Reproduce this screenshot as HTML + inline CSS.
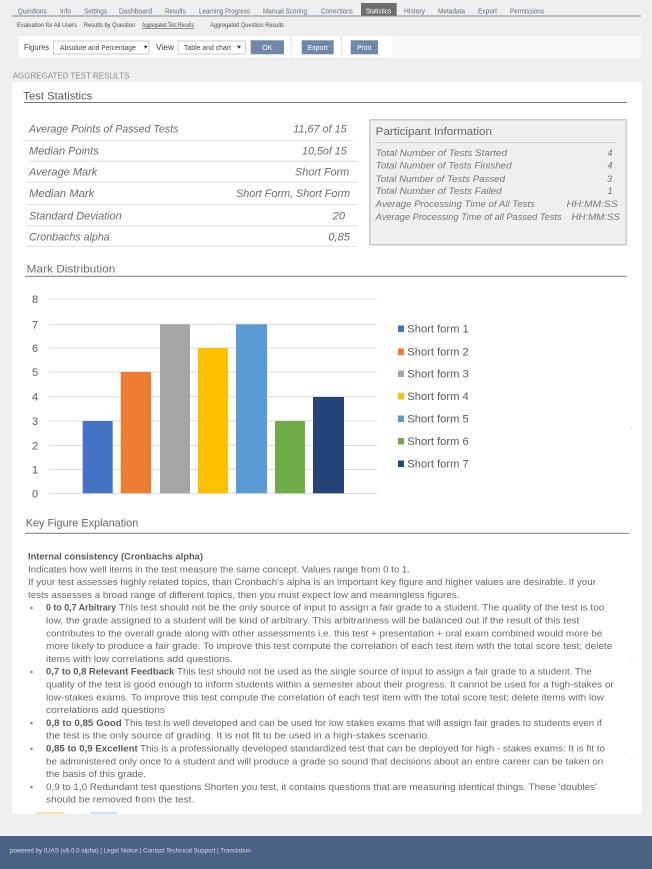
<!DOCTYPE html>
<html><head><meta charset="utf-8"><style>
html,body{margin:0;padding:0;background:#efefef;width:652px;height:869px;overflow:hidden}
svg{display:block}
text{font-family:"Liberation Sans",sans-serif}
</style></head><body>
<svg width="652" height="869" viewBox="0 0 652 869" xmlns="http://www.w3.org/2000/svg">
<rect x="0" y="0" width="652" height="869" fill="#efefef"/>

<!-- Tabs -->
<rect x="361" y="3" width="35.7" height="13" fill="#6d6d6d"/>
<rect x="12" y="15.5" width="629" height="1" fill="#8a8a8a"/>
<g font-size="7" fill="#5f6e7c">
<text x="17.7" y="13.5" textLength="29" lengthAdjust="spacingAndGlyphs">Questions</text>
<text x="60" y="13.5" textLength="11" lengthAdjust="spacingAndGlyphs">Info</text>
<text x="84" y="13.5" textLength="23" lengthAdjust="spacingAndGlyphs">Settings</text>
<text x="119" y="13.5" textLength="33" lengthAdjust="spacingAndGlyphs">Dashboard</text>
<text x="165" y="13.5" textLength="20.7" lengthAdjust="spacingAndGlyphs">Results</text>
<text x="199" y="13.5" textLength="51" lengthAdjust="spacingAndGlyphs">Learning Progress</text>
<text x="263" y="13.5" textLength="44" lengthAdjust="spacingAndGlyphs">Manual Scoring</text>
<text x="321" y="13.5" textLength="31.7" lengthAdjust="spacingAndGlyphs">Corrections</text>
<text x="365.7" y="13.5" textLength="25.3" lengthAdjust="spacingAndGlyphs" fill="#ffffff">Statistics</text>
<text x="404" y="13.5" textLength="21" lengthAdjust="spacingAndGlyphs">History</text>
<text x="438" y="13.5" textLength="27" lengthAdjust="spacingAndGlyphs">Metadata</text>
<text x="478" y="13.5" textLength="19" lengthAdjust="spacingAndGlyphs">Export</text>
<text x="510" y="13.5" textLength="34" lengthAdjust="spacingAndGlyphs">Permissions</text>
</g>

<!-- Subtabs -->
<g font-size="6" fill="#4a4a4a">
<text x="17" y="26.9" textLength="60" lengthAdjust="spacingAndGlyphs">Evaluation for All Users</text>
<text x="84" y="26.9" textLength="51" lengthAdjust="spacingAndGlyphs">Results by Question</text>
<text x="142" y="26.9" textLength="52" lengthAdjust="spacingAndGlyphs">Aggregated Test Results</text>
<text x="210" y="26.9" textLength="74" lengthAdjust="spacingAndGlyphs">Aggregated Question Results</text>
</g>
<rect x="142" y="28" width="52" height="0.6" fill="#555"/>

<!-- Toolbar -->
<rect x="19" y="36" width="373.7" height="22" fill="#ffffff"/>
<rect x="392.7" y="36" width="249" height="22" fill="#f8f8f8"/>
<rect x="290.5" y="36" width="1" height="22" fill="#e2e2e2"/>
<rect x="341" y="36" width="1" height="22" fill="#e2e2e2"/>
<text x="24" y="50" font-size="8.5" fill="#444" textLength="25" lengthAdjust="spacingAndGlyphs">Figures</text>
<rect x="53.5" y="41" width="95.5" height="13" fill="#fff" stroke="#c8c8c8" stroke-width="1"/>
<text x="60" y="50" font-size="7" fill="#444" textLength="75.7" lengthAdjust="spacingAndGlyphs">Absolute and Percentage</text>
<polygon points="143.6,45.8 147.6,45.8 145.6,48.8" fill="#333"/>
<text x="156" y="50" font-size="8.5" fill="#444" textLength="18" lengthAdjust="spacingAndGlyphs">View</text>
<rect x="178" y="41" width="67.7" height="13" fill="#fff" stroke="#c8c8c8" stroke-width="1"/>
<text x="184" y="50" font-size="7" fill="#444" textLength="47" lengthAdjust="spacingAndGlyphs">Table and chart</text>
<polygon points="237,45.8 241,45.8 239,48.8" fill="#333"/>
<rect x="250.7" y="40.3" width="33.3" height="14" fill="#6f88a9"/>
<text x="267.3" y="50" font-size="7" fill="#fff" text-anchor="middle">OK</text>
<rect x="301.7" y="40.3" width="32" height="14" fill="#6f88a9"/>
<text x="317.7" y="50" font-size="7" fill="#fff" text-anchor="middle">Export</text>
<rect x="350.7" y="40.3" width="27.3" height="14" fill="#6f88a9"/>
<text x="364.3" y="50" font-size="7" fill="#fff" text-anchor="middle">Print</text>

<!-- Section title -->
<text x="12.7" y="78.6" font-size="8" fill="#8a8a8a" textLength="116.6" lengthAdjust="spacingAndGlyphs">AGGREGATED TEST RESULTS</text>

<!-- Panel -->
<rect x="12" y="82" width="630" height="732" fill="#ffffff"/>

<!-- Test Statistics -->
<text x="23.3" y="99.7" font-size="11" fill="#5a5a5a" textLength="69" lengthAdjust="spacingAndGlyphs">Test Statistics</text>
<rect x="24" y="102" width="603" height="1" fill="#7a7a7a"/>

<g font-size="11" font-style="italic" fill="#6b6b6b">
<text x="29" y="132.3" textLength="149.3" lengthAdjust="spacingAndGlyphs">Average Points of Passed Tests</text>
<text x="29" y="154.3" textLength="69.7" lengthAdjust="spacingAndGlyphs">Median Points</text>
<text x="29" y="175.3" textLength="68.3" lengthAdjust="spacingAndGlyphs">Average Mark</text>
<text x="29" y="197" textLength="65.3" lengthAdjust="spacingAndGlyphs">Median Mark</text>
<text x="29" y="219.3" textLength="92.7" lengthAdjust="spacingAndGlyphs">Standard Deviation</text>
<text x="29" y="240.7" textLength="80.7" lengthAdjust="spacingAndGlyphs">Cronbachs alpha</text>
<text x="293.3" y="132.3" textLength="53.4" lengthAdjust="spacingAndGlyphs">11,67 of 15</text>
<text x="302" y="154.3" textLength="44.7" lengthAdjust="spacingAndGlyphs">10,5of 15</text>
<text x="295" y="175.3" textLength="54.3" lengthAdjust="spacingAndGlyphs">Short Form</text>
<text x="236" y="197" textLength="114" lengthAdjust="spacingAndGlyphs">Short Form, Short Form</text>
<text x="332.7" y="219.3" textLength="12.3" lengthAdjust="spacingAndGlyphs">20</text>
<text x="328.3" y="240.7" textLength="21.7" lengthAdjust="spacingAndGlyphs">0,85</text>
</g>
<g fill="#dcdcdc">
<rect x="23" y="140.2" width="329.7" height="1"/>
<rect x="29" y="160.8" width="329" height="1"/>
<rect x="26" y="181.8" width="332" height="1"/>
<rect x="26" y="204.2" width="332" height="1"/>
<rect x="26" y="225.2" width="332" height="1"/>
<rect x="26" y="245.8" width="330" height="1"/>
</g>

<!-- Participant Information -->
<rect x="369.8" y="119.8" width="256.4" height="125" fill="#efefef" stroke="#b0b0b0" stroke-width="1"/>
<text x="375.7" y="135" font-size="11" fill="#666" textLength="116.3" lengthAdjust="spacingAndGlyphs">Participant Information</text>
<rect x="375" y="142" width="242" height="1" fill="#d2d2d2"/>
<g font-size="9" font-style="italic" fill="#777">
<text x="375.7" y="155.9" textLength="131.3" lengthAdjust="spacingAndGlyphs">Total Number of Tests Started</text>
<text x="375.7" y="168.5" textLength="136" lengthAdjust="spacingAndGlyphs">Total Number of Tests Finished</text>
<text x="375.7" y="181.9" textLength="129.3" lengthAdjust="spacingAndGlyphs">Total Number of Tests Passed</text>
<text x="375.7" y="194.2" textLength="126" lengthAdjust="spacingAndGlyphs">Total Number of Tests Failed</text>
<text x="375.7" y="207.2" textLength="159.3" lengthAdjust="spacingAndGlyphs">Average Processing Time of All Tests</text>
<text x="375.7" y="219.9" textLength="186" lengthAdjust="spacingAndGlyphs">Average Processing Time of all Passed Tests</text>
<text x="610" y="155.9" text-anchor="middle">4</text>
<text x="610" y="168.5" text-anchor="middle">4</text>
<text x="609.5" y="181.9" text-anchor="middle">3</text>
<text x="610" y="194.2" text-anchor="middle">1</text>
<text x="566.5" y="207.2" textLength="51" lengthAdjust="spacingAndGlyphs">HH:MM:SS</text>
<text x="571.5" y="219.9" textLength="48.5" lengthAdjust="spacingAndGlyphs">HH:MM:SS</text>
</g>

<!-- Mark Distribution -->
<text x="26.7" y="272.3" font-size="11" fill="#6e6e6e" textLength="88.6" lengthAdjust="spacingAndGlyphs">Mark Distribution</text>
<rect x="25" y="275.8" width="601.7" height="1" fill="#7a7a7a"/>

<g fill="#d9d9d9">
<rect x="49" y="298.5" width="328" height="1"/>
<rect x="49" y="323.8" width="328" height="1"/>
<rect x="49" y="347.5" width="328" height="1"/>
<rect x="49" y="371.5" width="328" height="1"/>
<rect x="49" y="396.2" width="328" height="1"/>
<rect x="49" y="420.5" width="328" height="1"/>
<rect x="49" y="444.8" width="328" height="1"/>
<rect x="49" y="468.8" width="328" height="1"/>
<rect x="49" y="492.8" width="328" height="1"/>
</g>
<g font-size="11" fill="#595959" text-anchor="middle">
<text x="35" y="303">8</text>
<text x="35" y="328.3">7</text>
<text x="35" y="352">6</text>
<text x="35" y="376">5</text>
<text x="35" y="400.7">4</text>
<text x="35" y="425">3</text>
<text x="35" y="449.3">2</text>
<text x="35" y="473.3">1</text>
<text x="35" y="497.3">0</text>
</g>
<rect x="82.7" y="421" width="30" height="72.3" fill="#4472c4"/>
<rect x="120.7" y="372" width="30.3" height="121.3" fill="#ed7d31"/>
<rect x="160" y="324.3" width="30" height="169" fill="#a5a5a5"/>
<rect x="198" y="348" width="30" height="145.3" fill="#ffc000"/>
<rect x="236" y="324.3" width="31" height="169" fill="#5b9bd5"/>
<rect x="275" y="421" width="30" height="72.3" fill="#70ad47"/>
<rect x="313" y="397" width="31" height="96.3" fill="#264478"/>

<!-- Legend -->
<rect x="398" y="325.5" width="6" height="6.5" fill="#4472c4"/>
<rect x="398" y="348.5" width="6" height="6.5" fill="#ed7d31"/>
<rect x="398" y="370.5" width="6" height="6.5" fill="#a5a5a5"/>
<rect x="398" y="393" width="6" height="6.5" fill="#ffc000"/>
<rect x="398" y="415.5" width="6" height="6.5" fill="#5b9bd5"/>
<rect x="398" y="438" width="6" height="6.5" fill="#70ad47"/>
<rect x="398" y="460.5" width="6" height="6.5" fill="#264478"/>
<g font-size="11" fill="#595959">
<text x="407.3" y="332.3" textLength="61.4" lengthAdjust="spacingAndGlyphs">Short form 1</text>
<text x="407.3" y="355.3" textLength="61.4" lengthAdjust="spacingAndGlyphs">Short form 2</text>
<text x="407.3" y="377.3" textLength="61.4" lengthAdjust="spacingAndGlyphs">Short form 3</text>
<text x="407.3" y="400" textLength="61.4" lengthAdjust="spacingAndGlyphs">Short form 4</text>
<text x="407.3" y="422.3" textLength="61.4" lengthAdjust="spacingAndGlyphs">Short form 5</text>
<text x="407.3" y="445" textLength="61.4" lengthAdjust="spacingAndGlyphs">Short form 6</text>
<text x="407.3" y="467.3" textLength="61.4" lengthAdjust="spacingAndGlyphs">Short form 7</text>
</g>
<rect x="629.5" y="427.5" width="3" height="1" fill="#e6e6e6"/>

<!-- Key Figure Explanation -->
<text x="25.7" y="526.3" font-size="11" fill="#666" textLength="112.6" lengthAdjust="spacingAndGlyphs">Key Figure Explanation</text>
<rect x="25" y="532.8" width="604" height="1" fill="#7a7a7a"/>

<g font-size="9.5" fill="#676767">
<text x="28" y="559.5" font-weight="bold" fill="#5a5a5a" textLength="175" lengthAdjust="spacingAndGlyphs">Internal consistency (Cronbachs alpha)</text>
<text x="28" y="572.3" textLength="382" lengthAdjust="spacingAndGlyphs">Indicates how well items in the test measure the same concept. Values range from 0 to 1.</text>
<text x="28" y="585.1" textLength="568" lengthAdjust="spacingAndGlyphs">If your test assesses highly related topics,  than Cronbach's alpha is an important key figure and higher values are desirable. If your</text>
<text x="28" y="597.9" textLength="431.3" lengthAdjust="spacingAndGlyphs">tests assesses a broad range of different topics, then you must expect low and meaningless figures.</text>

<text x="46" y="610.7" font-weight="bold" fill="#5a5a5a" textLength="70" lengthAdjust="spacingAndGlyphs">0 to 0,7 Arbitrary</text>
<text x="119" y="610.7" textLength="485.3" lengthAdjust="spacingAndGlyphs">This test should not be the only source of input to assign a fair grade to a student. The quality of the test is too</text>
<text x="46" y="623.5" textLength="533.3" lengthAdjust="spacingAndGlyphs">low, the grade assigned to a student will be kind of arbitrary. This arbitrariness will be balanced out if the result of this test</text>
<text x="46" y="636.3" textLength="556.3" lengthAdjust="spacingAndGlyphs">contributes to the overall grade along with other assessments i.e. this test + presentation + oral exam combined would more be</text>
<text x="46" y="649.1" textLength="566.3" lengthAdjust="spacingAndGlyphs">more likely to produce a fair grade. To improve this test compute the correlation of each test item with the total score test; delete</text>
<text x="46" y="661.9" textLength="186.7" lengthAdjust="spacingAndGlyphs">items with low correlations add questions.</text>

<text x="46" y="674.7" font-weight="bold" fill="#5a5a5a" textLength="128.3" lengthAdjust="spacingAndGlyphs">0,7 to 0,8 Relevant Feedback</text>
<text x="177" y="674.7" textLength="414.7" lengthAdjust="spacingAndGlyphs">This test should not be used as the single source of input to assign a fair grade to a student. The</text>
<text x="46" y="687.5" textLength="567.7" lengthAdjust="spacingAndGlyphs">quality of the test is good enough to inform students within a semester about their progress. It cannot be used for a high-stakes or</text>
<text x="46" y="700.3" textLength="558" lengthAdjust="spacingAndGlyphs">low-stakes exams. To improve this test compute the correlation of each test item with the total score test; delete items with low</text>
<text x="46" y="713.1" textLength="119" lengthAdjust="spacingAndGlyphs">correlations add questions</text>

<text x="46" y="725.9" font-weight="bold" fill="#5a5a5a" textLength="75.7" lengthAdjust="spacingAndGlyphs">0,8 to 0,85 Good</text>
<text x="124" y="725.9" textLength="477.7" lengthAdjust="spacingAndGlyphs">This test is well developed and can be used for low stakes exams that will assign fair grades to students even if</text>
<text x="46" y="738.7" textLength="384" lengthAdjust="spacingAndGlyphs">the test is the only source of grading. It is not fit to be used in a high-stakes scenario.</text>

<text x="46" y="751.5" font-weight="bold" fill="#5a5a5a" textLength="91.7" lengthAdjust="spacingAndGlyphs">0,85 to 0,9 Excellent</text>
<text x="140" y="751.5" textLength="465" lengthAdjust="spacingAndGlyphs">This is a professionally developed standardized test that can be deployed for high - stakes  exams: It is fit to</text>
<text x="46" y="764.3" textLength="557.3" lengthAdjust="spacingAndGlyphs">be administered only once to a student and will produce a grade so sound that decisions about an entire career can be taken on</text>
<text x="46" y="777.1" textLength="100" lengthAdjust="spacingAndGlyphs">the basis of this grade.</text>

<text x="46" y="789.9" textLength="551" lengthAdjust="spacingAndGlyphs">0,9 to 1,0 Redundant test questions Shorten you test, it contains questions that are measuring identical things. These 'doubles'</text>
<text x="46" y="802.7" textLength="148.3" lengthAdjust="spacingAndGlyphs">should be removed from the test.</text>
</g>
<g fill="#7a7a7a">
<circle cx="31.5" cy="608" r="1.2"/>
<circle cx="31.5" cy="672" r="1.2"/>
<circle cx="31.5" cy="723.2" r="1.2"/>
<circle cx="31.5" cy="748.8" r="1.2"/>
<circle cx="31.5" cy="787.2" r="1.2"/>
</g>
<rect x="630" y="657.5" width="3" height="1" fill="#e6e6e6"/>
<rect x="630" y="758.5" width="3" height="1" fill="#e6e6e6"/>

<!-- partial elements at panel bottom -->
<rect x="36.7" y="812" width="27.6" height="2" fill="#f7e3a6"/>
<rect x="90" y="812" width="27.3" height="2" fill="#cfe2f3"/>

<!-- Footer -->
<rect x="0" y="836" width="652" height="33" fill="#4b6486"/>
<text x="10" y="852.5" font-size="6" fill="#d6dde8" textLength="240.7" lengthAdjust="spacingAndGlyphs">powered by ILIAS (v6.0.0 alpha) | Legal Notice | Contact Technical Support | Translation</text>
</svg>
</body></html>
